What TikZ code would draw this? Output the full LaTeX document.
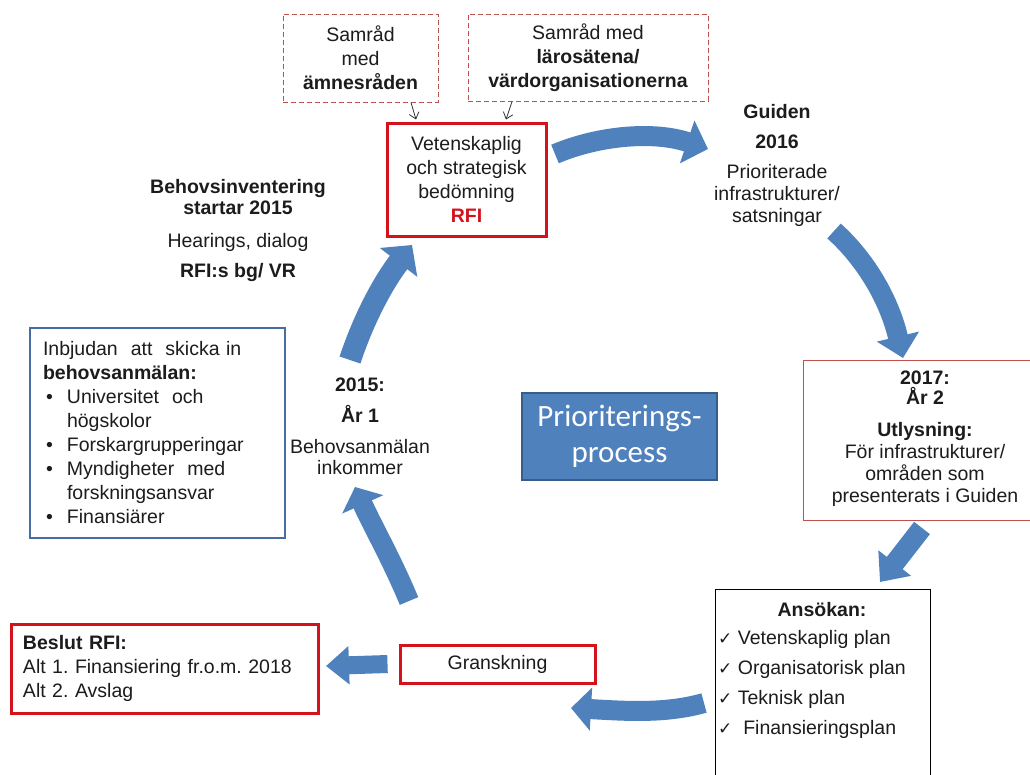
\documentclass[tikz,border=0pt]{standalone}
\usepackage{fontspec}
\setmainfont{Liberation Sans}
\newfontfamily\calibfont{Carlito}
\newfontfamily\dejavufont{DejaVu Sans}
\usetikzlibrary{arrows.meta}
\definecolor{ablue}{RGB}{79,129,189}
\definecolor{abluedark}{RGB}{56,93,138}
\definecolor{lboxblue}{RGB}{70,110,165}
\definecolor{rred}{RGB}{213,18,27}
\definecolor{dred}{RGB}{192,80,77}
\definecolor{txt}{RGB}{28,28,28}
\newcommand{\ckmark}{{\dejavufont\fontsize{17}{24}\selectfont ✓}}
\frenchspacing
\begin{document}
\begin{tikzpicture}[x=1pt,y=-1pt,
  font=\fontsize{19.5}{24}\selectfont, text=txt,
  redbox/.style={draw=rred, line width=3pt, inner sep=0pt},
  dashbox/.style={draw=dred, dash pattern=on 5pt off 3pt, line width=1pt, inner sep=0pt, align=center},
  bigarrow/.style={draw=ablue, line width=20pt},
  thinarrow/.style={draw=black!80, line width=0.8pt, -{Straight Barb[length=6pt,width=10pt]}},
  lbl/.style={align=center, inner sep=0pt},
]
\clip (0,0) rectangle (1030,774);
\fill[white] (0,0) rectangle (1030,774);

% top dashed boxes
\node[dashbox, minimum width=155pt, minimum height=88pt] (samr1) at (360.5,58) {Samråd\\med\\\textbf{ämnesråden}};
\node[dashbox, minimum width=240pt, minimum height=87pt] (samr2) at (588,57.5) {Samråd med\\\textbf{lärosätena/}\\\textbf{värdorganisationerna}};

% RFI box
\node[redbox, minimum width=159pt, minimum height=113pt, align=center] (rfi) at (466.5,179.5) {Vetenskaplig\\och strategisk\\bedömning\\\textcolor{rred}{\textbf{RFI}}};

\coordinate (t1a) at (411,0);
\coordinate (t1b) at (416,0);
\coordinate (t2a) at (512,0);
\coordinate (t2b) at (506,0);
\draw[thinarrow] (samr1.south -| t1a) -- ([yshift=2pt]rfi.north -| t1b);
\draw[thinarrow] (samr2.south -| t2a) -- ([yshift=2pt]rfi.north -| t2b);

% text blocks
\node[lbl] (behov) at (238,230) {\textbf{Behovsinventering}\\[-3pt]\textbf{startar 2015}\\[9pt]Hearings, dialog\\[6pt]\textbf{RFI:s bg/ VR}};
\node[lbl] (year1) at (360,426) {\textbf{2015:}\\[7pt]\textbf{År 1}\\[7pt]Behovsanmälan\\[-3pt]inkommer};
\node[lbl] (guiden) at (777,165) {\textbf{Guiden}\\[6pt]\textbf{2016}\\[6pt]Prioriterade\\[-2pt]infrastrukturer/\\[-2pt]satsningar};

% left invitation box
\node[draw=lboxblue, line width=2.5pt, minimum width=255pt, minimum height=210pt, text width=229pt, inner sep=0pt, align=left] (inbj) at (157.5,433)
{Inbjudan\ \ att\ \ skicka in\\
\textbf{behovsanmälan:}\\
\hspace*{3pt}\makebox[21pt][l]{•}Universitet\ \ och\\
\hspace*{24pt}högskolor\\
\hspace*{3pt}\makebox[21pt][l]{•}Forskargrupperingar\\
\hspace*{3pt}\makebox[21pt][l]{•}Myndigheter\ \ med\\
\hspace*{24pt}forskningsansvar\\
\hspace*{3pt}\makebox[21pt][l]{•}Finansiärer};

% centre box
\node[fill=ablue, draw=abluedark, line width=2pt, minimum width=195pt, minimum height=87pt, text=white, font=\calibfont\fontsize{31}{36}\selectfont, align=center, inner sep=0pt] (centre) at (619.5,436.5) {Prioriterings-\\process};

% 2017 box
\node[draw=dred, line width=1.2pt, minimum width=244pt, minimum height=160pt, anchor=north west, inner sep=0pt] (utl) at (803,360) {};
\node[lbl] (utltext) at (925,439) {\textbf{2017:}\\[-4pt]\textbf{År 2}\\[8pt]\textbf{Utlysning:}\\[-2pt]För infrastrukturer/\\[-2pt]områden som\\[-2pt]presenterats i Guiden};

% Ansokan box
\node[draw=black, line width=1.2pt, minimum width=215pt, minimum height=210pt, anchor=north west, inner sep=0pt] (ans) at (715,589) {};
\node[lbl] (anshead) at (822,610) {\textbf{Ansökan:}};
\node[inner sep=0pt, align=left, anchor=west] (anslist) at (718,684.5) {\ckmark\ Vetenskaplig plan\\[6pt]\ckmark\ Organisatorisk plan\\[6pt]\ckmark\ Teknisk plan\\[6pt]\ckmark\ \ Finansieringsplan};

% Granskning and Beslut
\node[redbox, minimum width=195pt, minimum height=38pt] (gransk) at (497.5,664) {Granskning};
\node[redbox, minimum width=307pt, minimum height=89pt, text width=283pt, align=left] (beslut) at (164.5,668.5) {\textbf{Beslut RFI:}\\Alt 1. Finansiering fr.o.m.\ 2018\\Alt 2. Avslag};

% big cycle arrows
\coordinate (a1s) at (555,154);
\coordinate (a1e) at (708,149);
\draw[bigarrow, -{Triangle[length=22pt,width=44pt]}] (a1s) .. controls (600,135) and (655,131) .. (a1e);

\coordinate (a2s) at (834,231);
\coordinate (a2e) at (903,358);
\draw[bigarrow, -{Triangle[length=22pt,width=42pt]}] (a2s) .. controls (862,256) and (888,295) .. (a2e);

\coordinate (a3s) at (922,528);
\coordinate (a3e) at (880,582);
\draw[bigarrow, -{Triangle[length=24pt,width=40pt]}] (a3s) -- (a3e);

\coordinate (a4s) at (704,703);
\coordinate (a4e) at (571,708);
\draw[bigarrow, -{Triangle[length=20pt,width=42pt]}] (a4s) .. controls (665,714) and (625,711) .. (a4e);

\coordinate (a5s) at (gransk.west);
\coordinate (a5e) at (326,666);
\draw[bigarrow, line width=18pt, -{Triangle[length=23pt,width=37pt]}] ([xshift=-11pt]a5s) -- (a5e);

\coordinate (a6s) at (409,601);
\coordinate (a6e) at (355,487);
\draw[bigarrow, -{Triangle[length=19pt,width=44pt]}] (a6s) .. controls (392,560) and (372,525) .. (a6e);

\coordinate (a7s) at (350,360);
\coordinate (a7e) at (412,245);
\draw[bigarrow, line width=22pt, -{Triangle[length=22pt,width=46pt]}] (a7s) .. controls (365,315) and (385,280) .. (a7e);
\end{tikzpicture}
\end{document}
